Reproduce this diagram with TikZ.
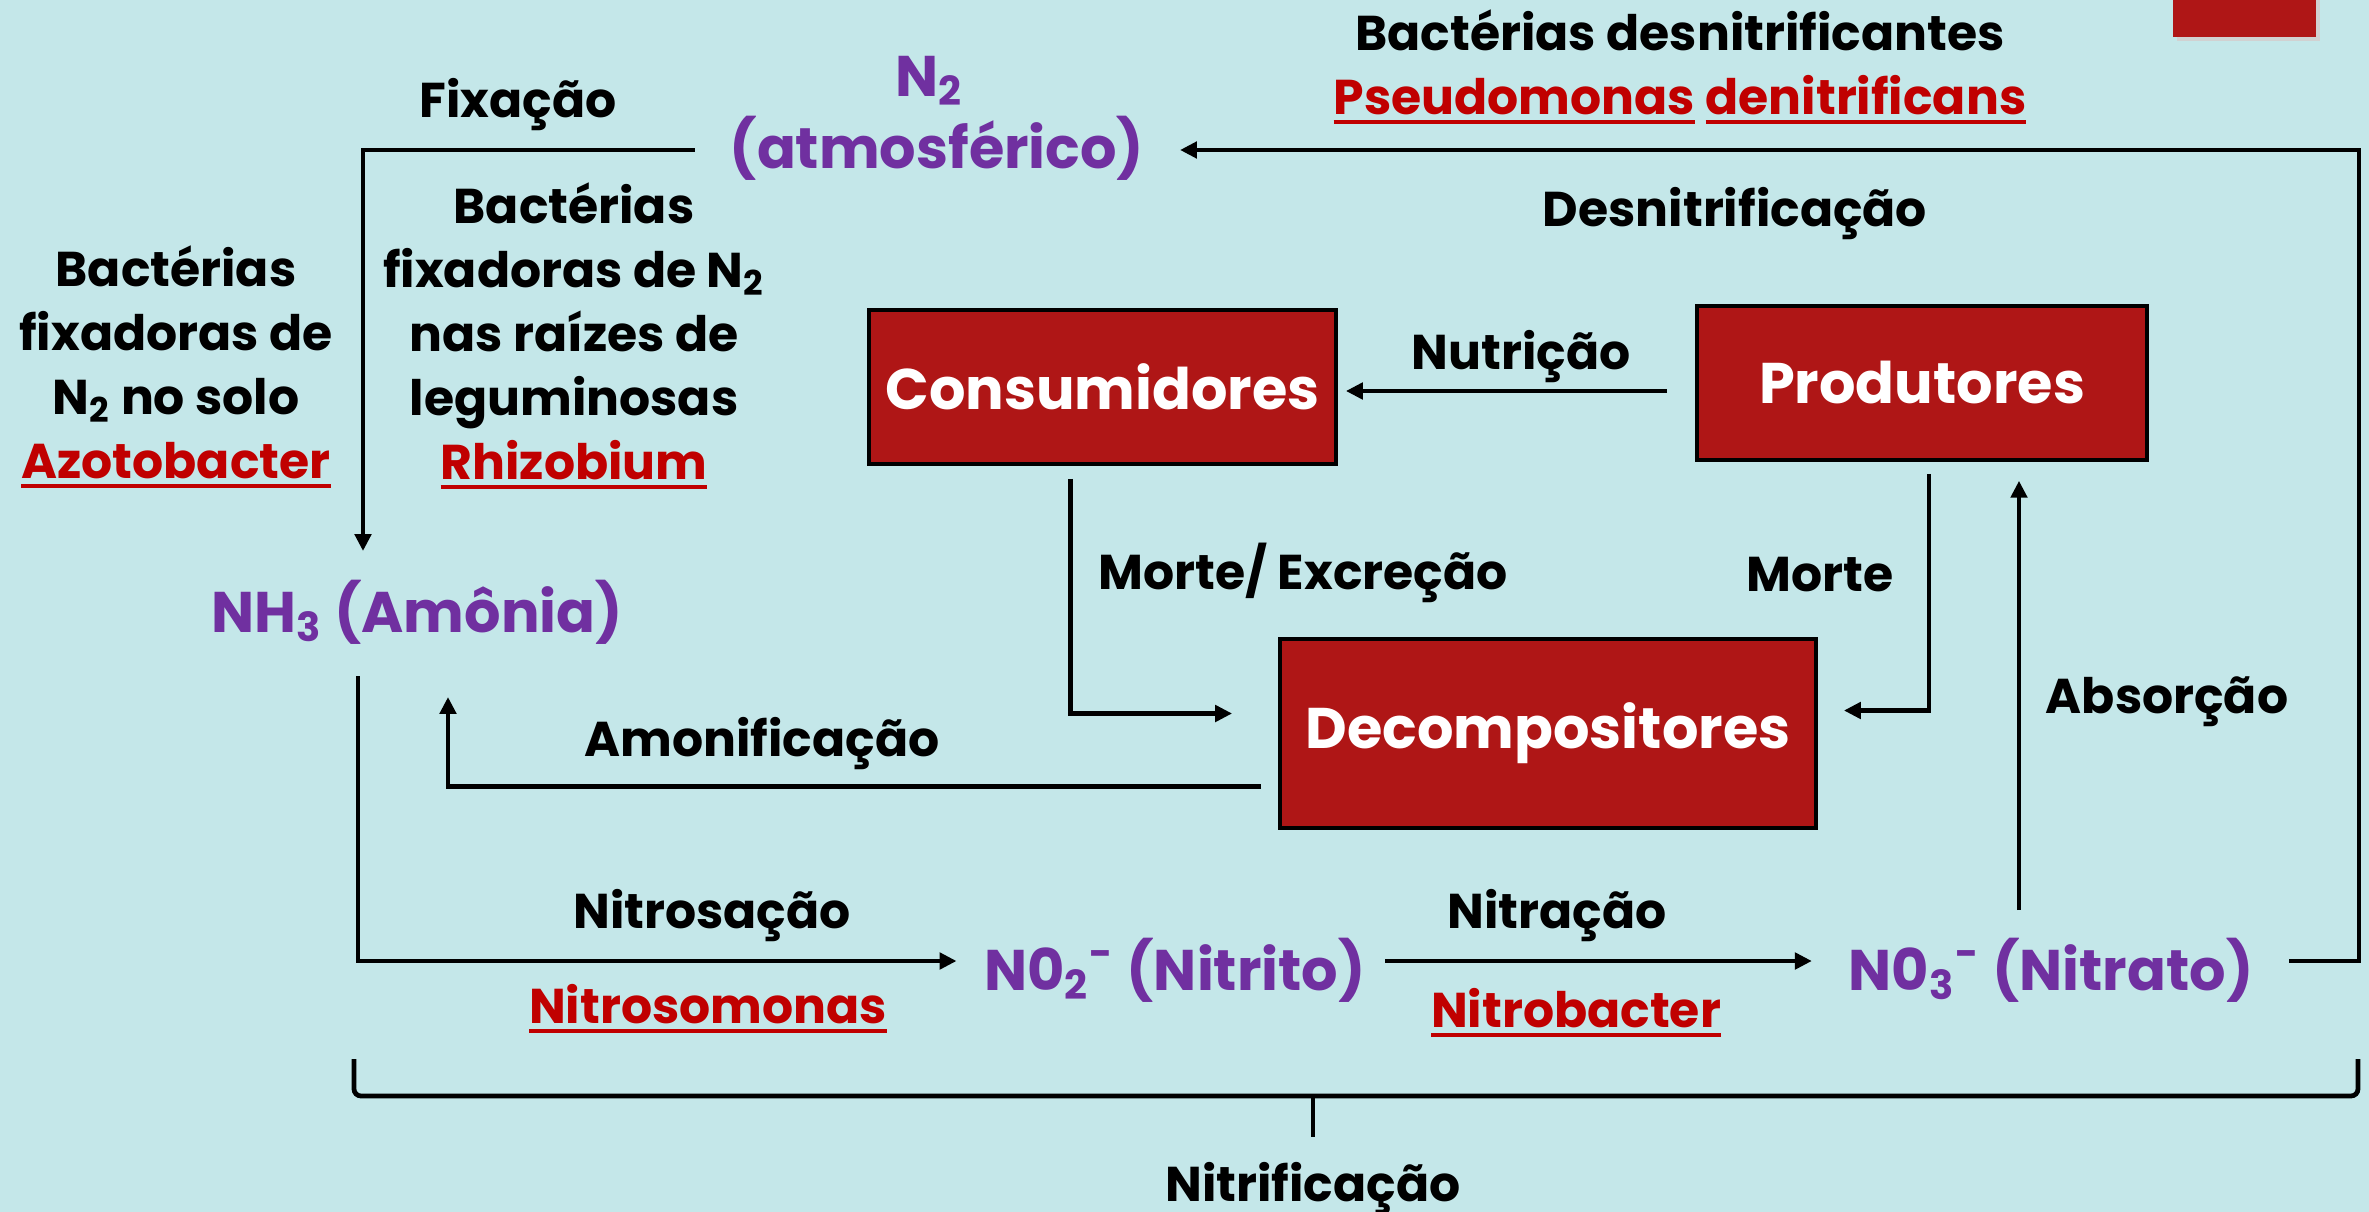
\documentclass[tikz,border=0pt]{standalone}
\usepackage{fontspec}
\setmainfont{Poppins}
\usetikzlibrary{arrows.meta,calc}
\definecolor{bg}{HTML}{C4E7E9}
\definecolor{purp}{HTML}{7030A0}
\definecolor{redtxt}{HTML}{C00000}
\definecolor{boxred}{HTML}{AF1616}
\newcommand{\redul}[1]{\setbox0\hbox{#1}\rlap{\vrule height -1.6pt depth 2.8pt width \wd0}\box0\relax}
\begin{document}
\begin{tikzpicture}[x=0.01cm,y=-0.01cm,
  lbl/.style={font=\fontsize{13.9}{18.2}\selectfont\bfseries, text=black, inner sep=0pt, align=center, anchor=base},
  mlbl/.style={lbl, anchor=center},
  chem/.style={font=\fontsize{16.3}{20.5}\selectfont\bfseries, text=purp, inner sep=0pt, anchor=base},
  box/.style={draw=black, line width=1pt, fill=boxred, text=white, font=\fontsize{16.3}{20}\selectfont\bfseries, inner sep=0pt},
  ln/.style={line width=1.35pt, black},
  arr/.style={ln, -{Triangle[length=4.8pt,width=4.6pt]}}]
\useasboundingbox (0,0) rectangle (2369,1212);
\fill[bg] (0,0) rectangle (2369,1212);
% decoration top right
\fill[black!18] (2177,0) rectangle (2320,41);
\fill[boxred] (2173,0) rectangle (2316,37);

% chemical species
\node[chem] (n2) at (929,96) {N\textsubscript{2}};
\node[chem] (atm) at (937,168) {(atmosférico)};
\node[chem] (nh3) at (417,632) {NH\textsubscript{3} (Amônia)};
\node[chem] (no2) at (1175,990) {N0\textsubscript{2}\textsuperscript{-} (Nitrito)};
\node[chem] (no3) at (2051,990) {N0\textsubscript{3}\textsuperscript{-} (Nitrato)};

% boxes
\node[box, minimum width=4.67cm, minimum height=1.54cm] (cons) at (1102.5,387) {Consumidores};
\node[box, minimum width=4.50cm, minimum height=1.54cm] (prod) at (1922,383) {Produtores};
\node[box, minimum width=5.36cm, minimum height=1.89cm] (decomp) at (1548,733.5) {Decompositores};

% labels
\node[lbl] (fix) at (518,117) {Fixação};
\node[mlbl] (leftbact) at (176,367) {Bactérias\\fixadoras de\\N\textsubscript{2} no solo\\{\color{redtxt}\redul{Azotobacter}}};
\node[mlbl] (midbact) at (574,336) {Bactérias\\fixadoras de N\textsubscript{2}\\nas raízes de\\leguminosas\\{\color{redtxt}\redul{Rhizobium}}};
\node[mlbl] (topbact) at (1680,67) {Bactérias desnitrificantes\\{\color{redtxt}\redul{Pseudomonas} \redul{denitrificans}}};
\node[lbl] (desn) at (1735,226) {Desnitrificação};
\node[lbl] (nut) at (1521,369) {Nutrição};
\node[lbl] (morex) at (1303,589) {Morte/ Excreção};
\node[lbl] (morte) at (1820,591) {Morte};
\node[lbl] (abs) at (2167,713) {Absorção};
\node[lbl] (amon) at (762,756) {Amonificação};
\node[lbl] (nitros) at (712,928) {Nitrosação};
\node[lbl, text=redtxt] (nitrosm) at (708,1023) {\redul{Nitrosomonas}};
\node[lbl] (nitra) at (1557,928) {Nitração};
\node[lbl, text=redtxt] (nitrob) at (1576,1027) {\redul{Nitrobacter}};
\node[lbl] (nitrif) at (1313,1201) {Nitrificação};

% connectors
\coordinate (desnR) at (2359,150);
\draw[arr] ($(atm.base west)+(-34,-18)$) -| ($(nh3.base)+(-54,-81)$);
\draw[arr] ($(no3.base east)+(35,-29)$) -| (desnR) -- ($(atm.base east)+(35,-18)$);
\draw[arr] ($(prod.west)+(-28,8)$) -- ($(prod.west -| cons.east)+(8,8)$);
\draw[arr] ($(cons.south)+(-32,13)$) |- ($(decomp.west)+(-46,-20)$);
\draw[arr] ($(prod.south)+(7,12)$) |- ($(decomp.east)+(26,-23)$);
\draw[arr] ($(no3.base)+(-32,-80)$) -- ($(prod.south)+(97,19)$);
\draw[arr] ($(decomp.west)+(-17,53)$) -| ($(nh3.base)+(31,65)$);
\draw[arr] ($(nh3.base)+(-59,44)$) |- ($(no2.base west)+(-27,-29)$);
\draw[arr] ($(no2.base east)+(19,-29)$) -- ($(no3.base west)+(-36,-29)$);

% nitrification bracket
\draw[ln, rounded corners=2pt] (354,1059) -- (354,1096) -- (2358,1096) -- (2358,1059);
\draw[ln] (1313,1096) -- ($(nitrif.base)+(0,-64)$);
\end{tikzpicture}
\end{document}
